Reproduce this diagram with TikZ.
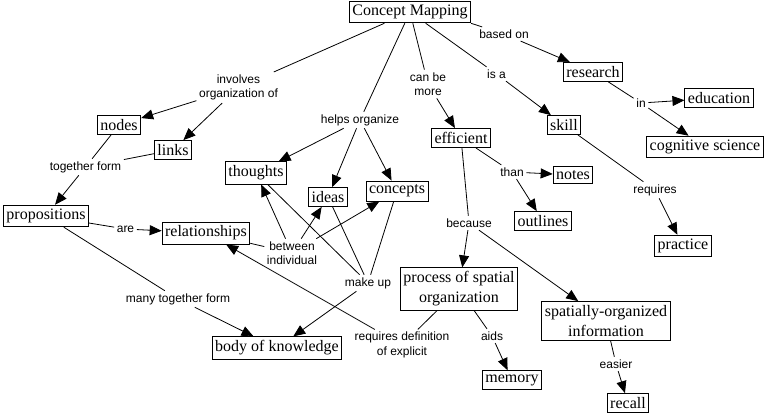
\documentclass[tikz,border=0pt]{standalone}
\usepackage{fontspec}
\setmainfont{Liberation Serif}
\setsansfont{Liberation Sans}
\usetikzlibrary{arrows.meta}
\begin{document}
\begin{tikzpicture}[x=1pt,y=-1pt,
  conc/.style={draw, line width=0.9pt, font=\fontsize{16}{20}\selectfont, inner xsep=3pt, inner ysep=3.8pt, align=center},
  lab/.style={font=\sffamily\fontsize{12}{14.5}\selectfont, inner sep=2.5pt, align=center},
  ln/.style={line width=0.8pt},
  ar/.style={line width=0.8pt, -{Triangle[length=12pt,width=10pt]}}
]
\useasboundingbox[fill=white] (0,0) rectangle (767,415);
% concepts
\node[conc] (cm) at (410,12) {Concept Mapping};
\node[conc] (research) at (593,72) {research};
\node[conc] (education) at (719,98) {education};
\node[conc] (cogsci) at (705,147) {cognitive science};
\node[conc] (skill) at (564,125) {skill};
\node[conc] (efficient) at (461,138) {efficient};
\node[conc] (notes) at (573,175) {notes};
\node[conc] (outlines) at (543,221) {outlines};
\node[conc] (practice) at (683,246) {practice};
\node[conc] (process) at (459,289) {process of spatial\\organization};
\node[conc] (spatial) at (606,321) {spatially-organized\\information};
\node[conc] (memory) at (512,380) {memory};
\node[conc] (recall) at (628,403) {recall};
\node[conc] (nodes) at (119,125) {nodes};
\node[conc] (links) at (173,150) {links};
\node[conc] (thoughts) at (256,173) {thoughts};
\node[conc] (ideas) at (328,197) {ideas};
\node[conc] (concepts) at (397,191) {concepts};
\node[conc] (props) at (46,216) {propositions};
\node[conc] (rel) at (206,233) {relationships};
\node[conc] (body) at (277,348) {body of knowledge};
% linking phrases
\node[lab] (linv) at (238.5,87.5) {involves\\organization of};
\node[lab] (lhelps) at (360,120) {helps organize};
\node[lab] (ltog) at (85.5,167) {together form};
\node[lab] (lare) at (125.5,229) {are};
\node[lab] (lbet) at (292,253) {between\\individual};
\node[lab] (lmake) at (368,283) {make up};
\node[lab] (lmany) at (178,299) {many together form};
\node[lab] (lreq) at (402,345) {requires definition\\of explicit};
\node[lab] (lbased) at (504,34) {based on};
\node[lab] (lcan) at (428,84) {can be\\more};
\node[lab] (lisa) at (496.5,74) {is a};
\node[lab] (lin) at (641,103) {in};
\node[lab] (lthan) at (512,172) {than};
\node[lab] (lrequires) at (655,190) {requires};
\node[lab] (lbecause) at (469,223) {because};
\node[lab] (laids) at (492,336) {aids};
\node[lab] (leasier) at (616,364) {easier};
% connectors
\draw[ln] (cm) -- (linv);
\draw[ar] (linv) -- (nodes);
\draw[ar] (linv) -- (links);
\draw[ln] (cm) -- (lhelps);
\draw[ar] (lhelps) -- (thoughts);
\draw[ar] (lhelps) -- (ideas);
\draw[ar] (lhelps) -- (concepts);
\draw[ln] (cm) -- (lcan);
\draw[ar] (lcan) -- (efficient);
\draw[ln] (cm) -- (lisa);
\draw[ar] (lisa) -- (skill);
\draw[ln] (cm.south east) -- (lbased);
\draw[ar] (lbased) -- (research);
\draw[ln] (research) -- (lin);
\draw[ar] (lin) -- (education);
\draw[ar] (lin) -- (cogsci);
\draw[ln] (skill) -- (lrequires);
\draw[ar] (lrequires) -- (practice);
\draw[ln] (efficient) -- (lthan);
\draw[ar] (lthan) -- (notes);
\draw[ar] (lthan) -- (outlines);
\draw[ln] (efficient) -- (lbecause);
\draw[ar] (lbecause) -- (process);
\draw[ar] (lbecause) -- (spatial);
\draw[ln] (process) -- (laids);
\draw[ar] (laids) -- (memory);
\draw[ln] (process) -- (lreq);
\draw[ar] (lreq) -- (rel);
\draw[ln] (spatial) -- (leasier);
\draw[ar] (leasier) -- (recall);
\draw[ln] (nodes) -- (ltog);
\draw[ln] (links) -- (ltog);
\draw[ar] (ltog) -- (props);
\draw[ln] (props) -- (lare);
\draw[ar] (lare) -- (rel);
\draw[ln] (props) -- (lmany);
\draw[ar] (lmany) -- (body);
\draw[ln] (rel) -- (lbet);
\draw[ar] (lbet) -- (thoughts);
\draw[ar] (lbet) -- (ideas);
\draw[ar] (lbet) -- (concepts);
\draw[ln] (thoughts) -- (lmake);
\draw[ln] (ideas) -- (lmake);
\draw[ln] (concepts) -- (lmake);
\draw[ar] (lmake) -- (body);
\end{tikzpicture}
\end{document}
